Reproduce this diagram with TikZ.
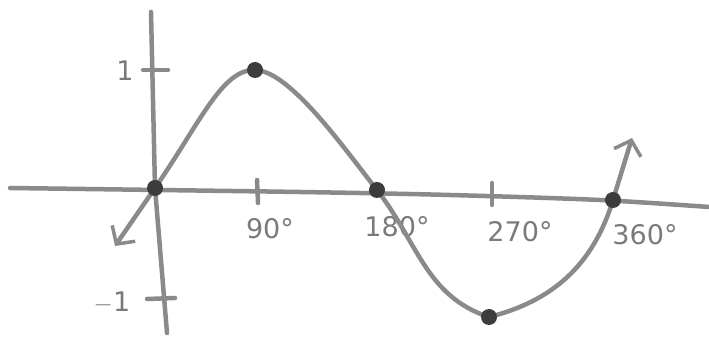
\documentclass[tikz,border=0pt]{standalone}
\usepackage{fontspec}
\setsansfont{DejaVu Sans}
\usepackage{tikz}
\usepackage{xcolor}
\usetikzlibrary{
  positioning, arrows.meta, calc,
}
\definecolor{cInk}{HTML}{8A8A8A}
\definecolor{cDot}{HTML}{3C3C3C}
\definecolor{cLabel}{HTML}{7A7A7A}

\begin{document}
\begin{tikzpicture}[x=1pt, y=1pt,
    pen/.style={draw=cInk, line width=4.5pt, line cap=round, line join=round},
    dotmark/.style={fill=cDot},
    lbl/.style={font=\sffamily\fontsize{27}{27}\selectfont, text=cLabel, inner sep=0pt},
    barb/.tip={Straight Barb[length=13pt, width=28pt, line width=3.5pt]}]
  \useasboundingbox (0,0) rectangle (709,339);
  % key points of the curve
  \coordinate (O) at (155,151);
  \coordinate (P) at (255,269);
  \coordinate (H) at (377,149);
  \coordinate (M) at (489,22);
  \coordinate (F) at (613,139);
  \coordinate (A1) at (115,93);
  \coordinate (A2) at (632,201);
  % axes
  \draw[pen] plot[smooth] coordinates {(10,151) (300,147) (450,144) (600,139) (709,132)};
  \draw[pen] (151,327) -- (O) -- (167,6);
  % ticks
  \draw[pen] (143,269) -- (168,269);
  \draw[pen] (147,40) -- (175,41);
  \draw[pen] (257,159) -- (258,136);
  \draw[pen] (492,156) -- (492,134);
  % labels
  \node[lbl] (one) at (125,268) {1};
  \node[lbl] (mone) at (112,36) {$-$1};
  \node[lbl] (d90) at (270,110) {90°};
  \node[lbl] (d180) at (397,112) {180°};
  \node[lbl] (d270) at (520,107) {270°};
  \node[lbl] (d360) at (645,104) {360°};
  % sine curve
  \draw[pen, barb-barb] (A1) -- (O) .. controls (200,216) and (222,270) .. (P)
        .. controls (290,268) and (343,192) .. (H) to[out=-52, in=162] (M)
        to[out=14, in=253] (F) -- (A2);
  % dots
  \foreach \p in {O, P, H, M, F}
    \fill[dotmark] (\p) circle (8);
\end{tikzpicture}
\end{document}
